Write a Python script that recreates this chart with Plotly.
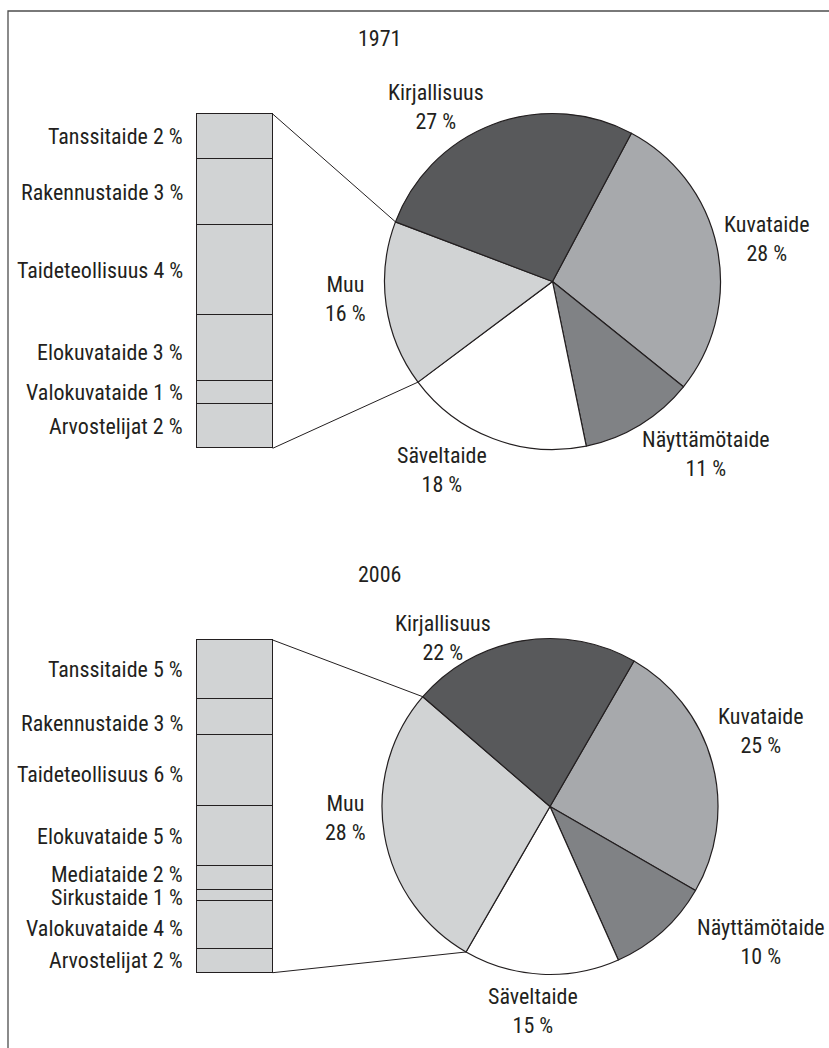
import math
import plotly.graph_objects as go

W, H = 829, 1048

# ---------------- data ----------------
years = ["1971", "2006"]

pie_labels = ["Kuvataide", "Näyttämötaide", "Säveltaide", "Muu", "Kirjallisuus"]
pie_1971 = [28, 11, 18, 16, 27]
pie_2006 = [25, 10, 15, 28, 22]

muu_labels_1971 = ["Tanssitaide", "Rakennustaide", "Taideteollisuus",
                   "Elokuvataide", "Valokuvataide", "Arvostelijat"]
muu_values_1971 = [2, 3, 4, 3, 1, 2]

muu_labels_2006 = ["Tanssitaide", "Rakennustaide", "Taideteollisuus",
                   "Elokuvataide", "Mediataide", "Sirkustaide",
                   "Valokuvataide", "Arvostelijat"]
muu_values_2006 = [5, 3, 6, 5, 2, 1, 4, 2]

# ---------------- styles ----------------
INK = "#231f20"
FONT = "Roboto Condensed, Liberation Sans Narrow, Arial Narrow, DejaVu Sans Condensed, sans-serif"
FS = 22
slice_colors = {
    "Kuvataide": "#a7a9ac",
    "Näyttämötaide": "#808285",
    "Säveltaide": "#ffffff",
    "Muu": "#d1d3d4",
    "Kirjallisuus": "#58595b",
}
BAR_FILL = "#d1d3d4"

# panel geometry in pixels; label_pos gives the centre of each two-line label
panels = [
    dict(year=years[0], values=pie_1971,
         sub_labels=muu_labels_1971, sub_values=muu_values_1971,
         center=(552.5, 281.5), r=168, rotation=28,
         bar=(197, 272.7, 114, 448.3), title=(379, 38.3),
         label_pos={"Kirjallisuus": (436, 107), "Kuvataide": (767, 239),
                    "Näyttämötaide": (706, 454), "Säveltaide": (441.7, 470),
                    "Muu": (345.8, 299)},
         nudge={"Elokuvataide": -4}),
    dict(year=years[1], values=pie_2006,
         sub_labels=muu_labels_2006, sub_values=muu_values_2006,
         center=(550, 806.5), r=168, rotation=30,
         bar=(197, 272.7, 640, 972.7), title=(379, 574),
         label_pos={"Kirjallisuus": (442.5, 638), "Kuvataide": (761.3, 731),
                    "Näyttämötaide": (760.8, 942), "Säveltaide": (532.5, 1011),
                    "Muu": (345.8, 818)},
         nudge={"Rakennustaide": -6, "Taideteollisuus": -4,
                "Mediataide": 3, "Sirkustaide": -2, "Valokuvataide": -3}),
]


def px(x):
    return x / W


def py(y):
    return 1 - y / H


fig = go.Figure()
annotations = []
shapes = []
layout_axes = {}
PAD = 3  # pixels of room around each bar so its outline is not clipped

for i, p in enumerate(panels):
    cx, cy = p["center"]
    r = p["r"]
    total = sum(p["values"])

    # pie
    fig.add_trace(go.Pie(
        labels=pie_labels, values=p["values"], sort=False,
        direction="clockwise", rotation=p["rotation"],
        marker=dict(colors=[slice_colors[k] for k in pie_labels],
                    line=dict(color=INK, width=1.2)),
        textinfo="none", hoverinfo="label+value", showlegend=False,
        domain=dict(x=[px(cx - r), px(cx + r)], y=[py(cy + r), py(cy - r)]),
        name=p["year"],
    ))

    # stacked bar breaking down "Muu"
    bx0, bx1, by0, by1 = p["bar"]
    sub_total = sum(p["sub_values"])
    unit = (by1 - by0) / sub_total
    xs = "" if i == 0 else str(i + 1)
    xa, ya = "x" + xs, "y" + xs
    bw = bx1 - bx0
    layout_axes["xaxis" + xs] = dict(
        domain=[px(bx0 - PAD), px(bx1 + PAD)],
        range=[-0.5 - PAD / bw, 0.5 + PAD / bw],
        visible=False, fixedrange=True, anchor=ya)
    layout_axes["yaxis" + xs] = dict(
        domain=[py(by1 + PAD), py(by0 - PAD)],
        range=[sub_total + PAD / unit, -PAD / unit],
        visible=False, fixedrange=True, anchor=xa)

    cum = 0
    for name, v in zip(p["sub_labels"], p["sub_values"]):
        fig.add_trace(go.Bar(
            x=[0], y=[v], width=1, xaxis=xa, yaxis=ya,
            marker=dict(color=BAR_FILL, line=dict(color=INK, width=1.5)),
            name=name, showlegend=False, hoverinfo="name+y",
        ))
        annotations.append(dict(
            text=f"{name} {v} %", xref="paper", x=px(185), xanchor="right",
            yref=ya, y=cum + v / 2, yanchor="middle",
            yshift=p["nudge"].get(name, 0), showarrow=False,
        ))
        cum += v

    # connector lines from the bar to the edges of the "Muu" slice
    k = pie_labels.index("Muu")
    a0 = p["rotation"] + sum(p["values"][:k]) / total * 360
    a1 = a0 + p["values"][k] / total * 360
    pts = []
    for a in (a0, a1):
        t = math.radians(a)
        pts.append((cx + r * math.sin(t), cy - r * math.cos(t)))
    for (bxp, byp), (ex, ey) in (((bx1, by1), pts[0]), ((bx1, by0), pts[1])):
        shapes.append(dict(type="line", xref="paper", yref="paper",
                           x0=px(bxp), y0=py(byp), x1=px(ex), y1=py(ey),
                           line=dict(color=INK, width=1)))

    # year title
    tx, ty = p["title"]
    annotations.append(dict(text=p["year"], xref="paper", yref="paper",
                            x=px(tx), y=py(ty), xanchor="center",
                            yanchor="middle", showarrow=False))

    # slice labels
    for name, v in zip(pie_labels, p["values"]):
        lx, ly = p["label_pos"][name]
        annotations.append(dict(text=f"{name}<br>{v} %",
                                xref="paper", yref="paper",
                                x=px(lx), y=py(ly), align="center",
                                xanchor="center", yanchor="middle",
                                showarrow=False))

# outer frame
shapes.append(dict(type="rect", xref="paper", yref="paper",
                   x0=px(8), y0=py(11), x1=1.05, y1=-0.05,
                   line=dict(color="#4d4d4d", width=1.3)))

fig.update_layout(
    width=W, height=H, margin=dict(l=0, r=0, t=0, b=0),
    paper_bgcolor="white", plot_bgcolor="rgba(0,0,0,0)",
    barmode="stack", bargap=0,
    font=dict(family=FONT, size=FS, color=INK, weight=400),
    annotations=annotations, shapes=shapes,
    **layout_axes,
)

fig.write_html("out.html")
